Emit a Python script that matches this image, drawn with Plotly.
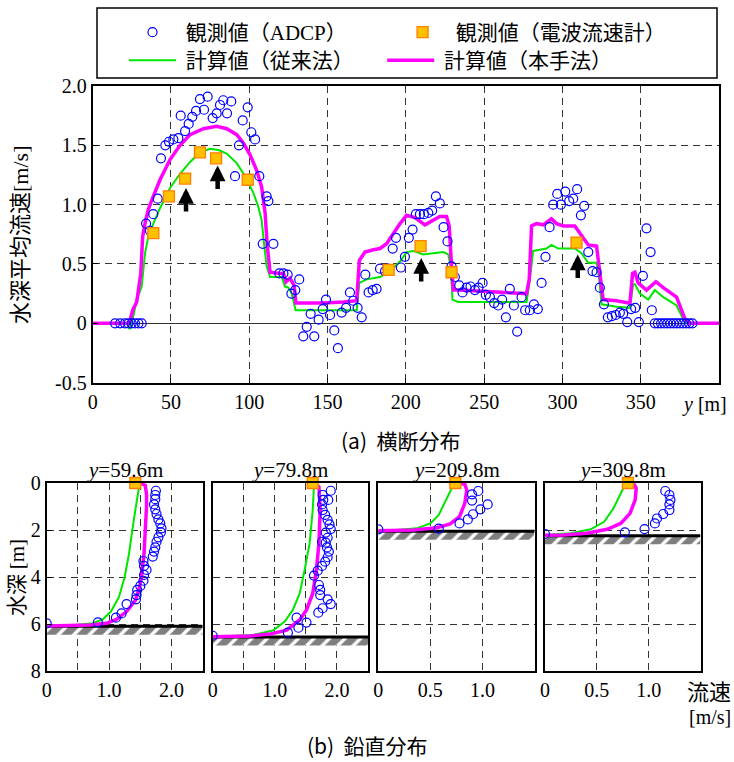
import plotly.graph_objects as go

W, H = 734, 762

# ---------------- (a) cross-sectional distribution ----------------
adcp_y = [14.3, 17.5, 20.6, 22.8, 24.9, 27.0, 29.2, 31.3,
          34.1, 36.6, 38.7, 41.5, 43.6, 46.4, 48.7, 51.5, 54.7, 56.2, 59.0, 61.3,
          63.6, 66.0, 68.5, 71.1, 73.4, 76.6, 79.2, 81.3, 83.4, 85.8, 88.5, 90.9,
          93.4, 95.8, 99.0, 101.3, 103.7, 106.4, 108.6, 111.1, 112.2, 115.4, 119.2,
          121.8, 124.5, 126.9, 129.4, 131.9, 134.5, 136.7, 139.2, 141.5, 144.3,
          146.9, 149.0, 151.6, 154.3, 156.6, 159.0, 161.8, 164.3, 166.4, 169.2,
          171.8, 174.1, 176.2, 178.8, 181.3, 183.5, 186.7, 188.4, 191.6, 193.7,
          196.8, 199.4, 201.9, 204.3, 206.4, 209.0, 211.5, 214.3, 216.8, 219.2,
          221.7, 224.1, 226.6, 229.2, 231.3, 234.1, 236.2, 238.8, 241.3, 244.1,
          246.4, 249.0, 251.1, 253.7, 256.4, 259.0, 261.5, 263.9, 266.4, 269.0,
          271.1, 273.9, 276.2, 279.2, 281.8, 284.3, 286.7, 289.2, 291.8, 294.1,
          296.7, 299.0, 301.8, 304.3, 306.9, 309.4, 311.8, 313.9, 316.5, 319.2,
          321.8, 323.9, 326.5, 329.0, 331.6, 334.1, 336.7, 338.8, 341.4, 343.9,
          346.5, 348.8, 351.4, 353.7, 356.3, 357.1,
          359.0, 361.0, 363.0, 365.0, 367.0, 369.0, 371.0, 373.0, 375.0, 377.0,
          379.0, 381.0, 383.0]
adcp_v = [0, 0, 0, 0, 0, 0, 0, 0,
          0.84, 0.78, 0.92, 1.05, 1.39, 1.50, 1.53, 1.55, 1.56, 1.75, 1.62, 1.68,
          1.74, 1.79, 1.89, 1.80, 1.91, 1.73, 1.77, 1.84, 1.88, 1.77, 1.87, 1.24,
          1.50, 1.71, 1.82, 1.61, 1.55, 1.24, 0.67, 1.07, 1.03, 0.67, 0.42,
          0.42, 0.41, 0.25, 0.28, 0.37, -0.11, -0.03, 0.08, -0.11, 0.03,
          0.12, 0.20, 0.07, -0.06, -0.21, 0.09, 0.13, 0.26, 0.19, 0.13,
          0.05, 0.41, 0.26, 0.28, 0.29, 0.46, 0.44, 0.46, 0.63, 0.72,
          0.47, 0.56, 0.72, 0.79, 0.92, 0.92, 0.92, 0.93, 0.95, 1.07,
          1.01, 0.81, 0.69, 0.48, 0.39, 0.32, 0.26, 0.30, 0.31, 0.28,
          0.30, 0.34, 0.24, 0.22, 0.17, 0.15, 0.20, 0.05, 0.29, 0.15,
          -0.07, 0.22, 0.11, 0.11, 0.16, 0.12, 0.34, 0.56, 0.81, 1.00,
          1.09, 1.00, 1.11, 1.03, 1.05, 1.13, 0.91, 0.99, 0.60, 0.44,
          0.43, 0.30, 0.16, 0.05, 0.06, 0.07, 0.09, 0.08, 0.01, 0.12,
          0.13, 0.01, 0.40, 0.80, 0.60, 0.11,
          0, 0, 0, 0, 0, 0, 0, 0, 0, 0,
          0, 0, 0]

radio_y = [38.7, 48.7, 59.0, 68.5, 78.8, 99.0, 189.0, 209.4, 229.2, 309.0]
radio_v = [0.76, 1.07, 1.22, 1.44, 1.39, 1.21, 0.45, 0.65, 0.43, 0.68]

conv_y = [0, 21.7, 23.8, 25.5, 28.1, 31.3, 33.4, 35.5, 38.7, 43.0, 49.4, 55.8, 62.2,
          68.5, 74.9, 80.2, 85.6, 92.0, 97.3, 102.6, 105.8, 107.9, 109.6, 111.1,
          113.3, 120.7, 122.8, 125.0, 127.1, 129.6, 147.3, 168.6, 170.3, 175.0,
          183.5, 189.9, 196.3, 200.5, 204.7, 211.1, 217.5, 223.9, 227.1, 228.6,
          229.8, 233.4, 249.4, 277.1, 279.2, 281.3, 285.6, 289.8, 293.0, 297.3,
          307.9, 312.2, 316.5, 321.8, 323.5, 325.0, 334.6, 343.1, 345.2, 346.3,
          349.5, 354.8, 359.0, 364.4, 372.9, 378.2, 381.4, 400]
conv_v = [0, 0, -0.05, 0.03, 0.20, 0.31, 0.59, 0.73, 0.84, 0.97, 1.14, 1.26, 1.36,
          1.44, 1.47, 1.46, 1.43, 1.35, 1.24, 1.10, 0.98, 0.87, 0.65, 0.48,
          0.39, 0.39, 0.31, 0.30, 0.25, 0.11, 0.11, 0.11, 0.34, 0.37,
          0.39, 0.44, 0.52, 0.60, 0.61, 0.58, 0.59, 0.60, 0.58, 0.48,
          0.20, 0.18, 0.18, 0.18, 0.37, 0.61, 0.62, 0.63, 0.66, 0.63,
          0.63, 0.59, 0.51, 0.51, 0.37, 0.16, 0.14, 0.13, 0.33, 0.33,
          0.25, 0.20, 0.28, 0.22, 0.15, 0.01, 0, 0]

prop_y = [0, 23.4, 25.5, 28.1, 30.7, 31.9, 33.4, 35.5, 38.7, 43.0, 49.4, 55.8, 62.2,
          70.7, 79.2, 85.6, 92.0, 96.2, 100.5, 104.7, 107.9, 110.1, 111.5, 113.3,
          119.6, 121.8, 123.5, 126.0, 128.6, 129.8, 136.7, 147.3, 160.1, 168.6,
          170.3, 173.9, 179.2, 183.5, 187.7, 192.0, 196.3, 200.5, 205.8, 212.2,
          217.5, 221.7, 226.0, 227.7, 229.2, 230.3, 234.5, 249.4, 260.1, 277.1,
          278.8, 280.3, 283.5, 287.7, 293.0, 296.2, 300.5, 307.9, 312.2, 316.5,
          321.8, 323.9, 326.0, 334.6, 343.1, 344.8, 346.3, 348.4, 353.7, 359.7,
          364.4, 372.9, 378.2, 381.4, 400]
prop_v = [0, 0, 0.11, 0.18, 0.42, 0.73, 0.84, 0.96, 1.07, 1.21, 1.38, 1.50, 1.59,
          1.64, 1.66, 1.64, 1.59, 1.52, 1.42, 1.29, 1.15, 0.93, 0.65, 0.43,
          0.42, 0.42, 0.35, 0.38, 0.32, 0.17, 0.17, 0.17, 0.18, 0.19,
          0.53, 0.60, 0.62, 0.63, 0.67, 0.76, 0.84, 0.91, 0.89, 0.83,
          0.87, 0.90, 0.90, 0.82, 0.48, 0.28, 0.28, 0.27, 0.26, 0.25,
          0.37, 0.82, 0.84, 0.83, 0.88, 0.84, 0.82, 0.82, 0.74, 0.66,
          0.65, 0.45, 0.20, 0.19, 0.17, 0.42, 0.43, 0.34, 0.28, 0.35,
          0.30, 0.22, 0.04, 0, 0]

arrow_y = [59.6, 79.8, 209.8, 309.8]
arrow_tip = [1.14, 1.33, 0.55, 0.58]
arrow_len = 0.21

x_ticks = [0, 50, 100, 150, 200, 250, 300, 350]
v_ticks = [-0.5, 0, 0.5, 1.0, 1.5, 2.0]
v_ticktext = ["-0.5", "0", "0.5", "1.0", "1.5", "2.0"]

# ---------------- (b) vertical distribution ----------------
panel_names = ["59.6m", "79.8m", "209.8m", "309.8m"]
panel_xmax = [2.5, 2.5, 1.5, 1.5]
bed_depth = [6.1, 6.55, 2.05, 2.25]
bed_band = 0.36

adcp_pv = [
    [0.0, 0.82, 1.11, 1.20, 1.28, 1.43, 1.44, 1.45, 1.50, 1.55, 1.56, 1.60, 1.56, 1.55,
     1.70, 1.72, 1.74, 1.76, 1.79, 1.83, 1.84, 1.82, 1.79, 1.76, 1.74, 1.72, 1.74, 1.74, 1.75],
    [0.0, 1.21, 1.35, 1.38, 1.51, 1.63, 1.70, 1.77, 1.85, 1.90, 1.73, 1.73, 1.71, 1.69,
     1.76, 1.81, 1.85, 1.87, 1.84, 1.82, 1.85, 1.76, 1.82, 1.90, 1.88, 1.85, 1.81, 1.77,
     1.76, 1.78, 1.77, 1.86, 1.90],
    [0.0, 0.58, 0.78, 0.86, 0.91, 0.98, 1.05, 0.90, 0.90, 0.96],
    [0.0, 0.77, 0.96, 1.06, 1.08, 1.14, 1.20, 1.20, 1.21, 1.20, 1.16],
]
adcp_pd = [
    [5.97, 5.93, 5.73, 5.55, 5.15, 4.95, 4.77, 4.55, 4.38, 4.16, 3.91, 3.70, 3.53, 3.32,
     3.13, 2.92, 2.74, 2.50, 2.31, 2.10, 1.93, 1.72, 1.55, 1.32, 1.12, 0.91, 0.69, 0.51, 0.33],
    [6.50, 6.37, 5.73, 6.16, 5.94, 3.94, 5.52, 5.33, 4.95, 5.15, 4.77, 4.55, 4.34, 3.73,
     3.53, 3.35, 3.16, 2.92, 2.74, 2.54, 2.33, 2.50, 2.11, 1.96, 1.76, 1.57, 1.36, 1.15,
     0.91, 0.72, 0.51, 0.72, 0.33],
    [1.97, 1.94, 1.72, 1.55, 1.33, 1.12, 0.91, 0.75, 0.48, 0.34],
    [2.17, 2.10, 1.96, 1.72, 1.51, 1.32, 1.15, 0.91, 0.72, 0.51, 0.34],
]
radio_pv = [1.42, 1.61, 0.74, 0.80]

prop_pv = [
    [1.50, 1.58, 1.60, 1.60, 1.58, 1.56, 1.52, 1.48, 1.42, 1.28, 1.12, 0.96, 0.69, 0],
    [1.64, 1.71, 1.73, 1.71, 1.67, 1.61, 1.51, 1.40, 1.19, 0.92, 0.60, 0],
    [0.76, 0.83, 0.85, 0.83, 0.78, 0.69, 0.56, 0.34, 0],
    [0.80, 0.855, 0.88, 0.87, 0.82, 0.73, 0.60, 0.40, 0.18, 0],
]
prop_pd = [
    [0, 0.1, 0.5, 1.0, 2.0, 3.0, 4.0, 4.5, 5.0, 5.47, 5.80, 5.97, 6.04, 6.08],
    [0, 0.16, 1.15, 2.57, 3.70, 4.70, 5.40, 5.83, 6.26, 6.43, 6.51, 6.54],
    [0, 0.05, 0.30, 0.87, 1.43, 1.74, 1.90, 2.00, 2.03],
    [0, 0.02, 0.23, 0.72, 1.29, 1.72, 1.97, 2.14, 2.21, 2.22],
]
conv_pv = [
    [1.49, 1.46, 1.42, 1.38, 1.32, 1.25, 1.16, 1.03, 0.90, 0.74, 0.42, 0],
    [1.63, 1.63, 1.61, 1.56, 1.48, 1.40, 1.29, 1.16, 0.97, 0.65, 0],
    [0.73, 0.69, 0.64, 0.58, 0.50, 0.37, 0.10, 0],
    [0.78, 0.73, 0.66, 0.57, 0.44, 0.25, 0],
]
conv_pd = [
    [0, 0.44, 1.16, 1.86, 3.00, 3.99, 4.84, 5.47, 5.80, 5.97, 6.05, 6.08],
    [0, 0.10, 1.15, 2.57, 3.70, 4.70, 5.40, 5.90, 6.28, 6.47, 6.54],
    [0, 0.37, 0.87, 1.36, 1.72, 1.93, 2.03, 2.04],
    [0, 0.44, 1.08, 1.65, 1.97, 2.14, 2.21],
]
depth_ticks = [0, 2, 4, 6, 8]

# ---------------- styles ----------------
BLUE = "#0000FF"
SQ_FILL = "#FFC000"
SQ_LINE = "#FF7F00"
GREEN = "#00E600"
MAGENTA = "#FF00FF"
SERIF = "Liberation Serif"
SANS = "Noto Sans CJK JP"
GRIDDASH = "7px,5px"
NB = "\u00a0"


def px(p):
    return p / W


def py(p):
    return 1 - p / H


fig = go.Figure()

# legend row 1: ADCP / radio ; legend row 2: conventional / proposed
fig.add_trace(go.Scatter(x=conv_y, y=conv_v, mode="lines",
                         name=NB + "計算値（従来法）" + NB * 5, legend="legend2",
                         line=dict(color=GREEN, width=2), legendrank=1))
fig.add_trace(go.Scatter(x=prop_y, y=prop_v, mode="lines",
                         name=NB + "計算値（本手法）", legend="legend2",
                         line=dict(color=MAGENTA, width=3.5), legendrank=2))
fig.add_trace(go.Scatter(x=adcp_y, y=adcp_v, mode="markers", legend="legend",
                         name=NB + "観測値（<span style='font-family:Liberation Serif'>ADCP</span>）" + NB * 9,
                         marker=dict(symbol="circle-open", size=9, color=BLUE,
                                     line=dict(width=1.2, color=BLUE)), legendrank=1))
fig.add_trace(go.Scatter(x=radio_y, y=radio_v, mode="markers", legend="legend",
                         name=NB + "観測値（電波流速計）",
                         marker=dict(symbol="square", size=11, color=SQ_FILL,
                                     line=dict(width=1.3, color=SQ_LINE)), legendrank=2))

for i in range(4):
    xa = "x%d" % (i + 2)
    ya = "y%d" % (i + 2)
    h = bed_depth[i]
    xm = panel_xmax[i]
    fig.add_trace(go.Scatter(x=[0, xm, xm, 0, 0], y=[h, h, h + bed_band, h + bed_band, h],
                             mode="lines", fill="toself", line=dict(width=0, color="black"),
                             fillcolor="white",
                             fillpattern=dict(shape="/", fgcolor="black", bgcolor="white",
                                              size=11, solidity=0.7),
                             xaxis=xa, yaxis=ya, showlegend=False, hoverinfo="skip"))
    fig.add_trace(go.Scatter(x=[0, xm], y=[h, h], mode="lines",
                             line=dict(color="black", width=3),
                             xaxis=xa, yaxis=ya, showlegend=False, hoverinfo="skip"))
    fig.add_trace(go.Scatter(x=conv_pv[i], y=conv_pd[i], mode="lines",
                             line=dict(color=GREEN, width=2), xaxis=xa, yaxis=ya,
                             showlegend=False))
    fig.add_trace(go.Scatter(x=prop_pv[i], y=prop_pd[i], mode="lines",
                             line=dict(color=MAGENTA, width=3.5), xaxis=xa, yaxis=ya,
                             showlegend=False))
    fig.add_trace(go.Scatter(x=adcp_pv[i], y=adcp_pd[i], mode="markers",
                             marker=dict(symbol="circle-open", size=9, color=BLUE,
                                         line=dict(width=1.2, color=BLUE)),
                             xaxis=xa, yaxis=ya, showlegend=False))
    fig.add_trace(go.Scatter(x=[radio_pv[i]], y=[0], mode="markers",
                             marker=dict(symbol="square", size=11, color=SQ_FILL,
                                         line=dict(width=1.3, color=SQ_LINE)),
                             xaxis=xa, yaxis=ya, showlegend=False, cliponaxis=False))

axis_common = dict(showline=True, linecolor="black", linewidth=2, mirror=True,
                   ticks="inside", ticklen=5, tickcolor="black",
                   showgrid=True, gridcolor="#333333", gridwidth=1, griddash=GRIDDASH,
                   zeroline=False, automargin=False,
                   tickfont=dict(family=SERIF, size=20, color="black"))

legend_common = dict(orientation="h", xanchor="left", yanchor="middle", itemwidth=47,
                     font=dict(family=SANS, size=21, color="black"),
                     bgcolor="rgba(0,0,0,0)", borderwidth=0, traceorder="normal")

layout = dict(
    width=W, height=H, margin=dict(l=0, r=0, t=0, b=0, autoexpand=False),
    paper_bgcolor="white", plot_bgcolor="white",
    showlegend=True,
    legend=dict(legend_common, x=px(124), y=py(32.5)),
    legend2=dict(legend_common, x=px(124), y=py(60.5)),
)

layout["xaxis"] = dict(axis_common, domain=[px(92.7), px(719)], range=[0, 400],
                       tickvals=x_ticks, ticktext=[str(t) for t in x_ticks],
                       anchor="y")
layout["yaxis"] = dict(axis_common, domain=[py(382.6), py(86)], range=[-0.5, 2.0],
                       tickvals=v_ticks, ticktext=v_ticktext, anchor="x",
                       zeroline=True, zerolinecolor="#333333", zerolinewidth=1)

panel_left = [46.7, 212.7, 378.3, 545.0]
panel_right = [202.7, 368.0, 534.5, 700.5]
for i in range(4):
    xm = panel_xmax[i]
    if xm > 2:
        tv = [0, 0.5, 1.0, 1.5, 2.0]
        tt = ["0", "", "1.0", "", "2.0"]
    else:
        tv = [0, 0.5, 1.0]
        tt = ["0", "0.5", "1.0"]
    layout["xaxis%d" % (i + 2)] = dict(axis_common, domain=[px(panel_left[i]), px(panel_right[i])],
                                      range=[0, xm], tickvals=tv, ticktext=tt,
                                      anchor="y%d" % (i + 2), ticks="")
    layout["yaxis%d" % (i + 2)] = dict(axis_common, domain=[py(671), py(483)],
                                      range=[8, 0], tickvals=depth_ticks,
                                      ticktext=[str(t) for t in depth_ticks],
                                      showticklabels=(i == 0),
                                      ticks="inside" if i == 0 else "",
                                      anchor="x%d" % (i + 2))

fig.update_layout(**layout)


def label(x, y, text, family, size, angle=0, xanchor="center"):
    return dict(x=px(x), y=py(y), xref="paper", yref="paper", showarrow=False,
                xanchor=xanchor, yanchor="middle", text=text, textangle=angle,
                font=dict(family=family, size=size, color="black"))


annotations = []
for xa_, tip in zip(arrow_y, arrow_tip):
    annotations.append(dict(x=xa_, y=tip, ax=xa_, ay=tip - arrow_len, xref="x", yref="y",
                            axref="x", ayref="y", text="", showarrow=True,
                            arrowhead=2, arrowsize=0.7, arrowwidth=4.5, arrowcolor="black"))
annotations.append(label(18, 235, "水深平均流速<span style='font-family:Liberation Serif'>[m/s]</span>",
                         SANS, 22, angle=-90))
annotations.append(label(704, 404, "<i>y</i> [m]", SERIF, 20))
annotations.append(label(400, 440, "(a)  横断分布", SANS, 21))
annotations.append(label(15, 578, "水深 <span style='font-family:Liberation Serif'>[m]</span>",
                         SANS, 21, angle=-90))
annotations.append(label(733, 690, "流速", SANS, 22, xanchor="right"))
annotations.append(label(733, 717, "[m/s]", SERIF, 20, xanchor="right"))
annotations.append(label(367, 745, "(b)  鉛直分布", SANS, 21))
for i in range(4):
    annotations.append(label((panel_left[i] + panel_right[i]) / 2, 470,
                             "<i>y</i>=" + panel_names[i], SERIF, 21))
fig.update_layout(annotations=annotations)

fig.add_shape(type="rect", xref="paper", yref="paper", x0=px(97), x1=px(717),
              y0=py(78), y1=py(8), line=dict(color="black", width=1.5),
              fillcolor="rgba(0,0,0,0)", layer="below")

# remove the default 8px page margin so the figure fills the window exactly
fig.write_html("out.html",
               config={"displayModeBar": False},
               post_script="document.body.style.margin='0px';"
                           "document.body.style.overflow='hidden';")
